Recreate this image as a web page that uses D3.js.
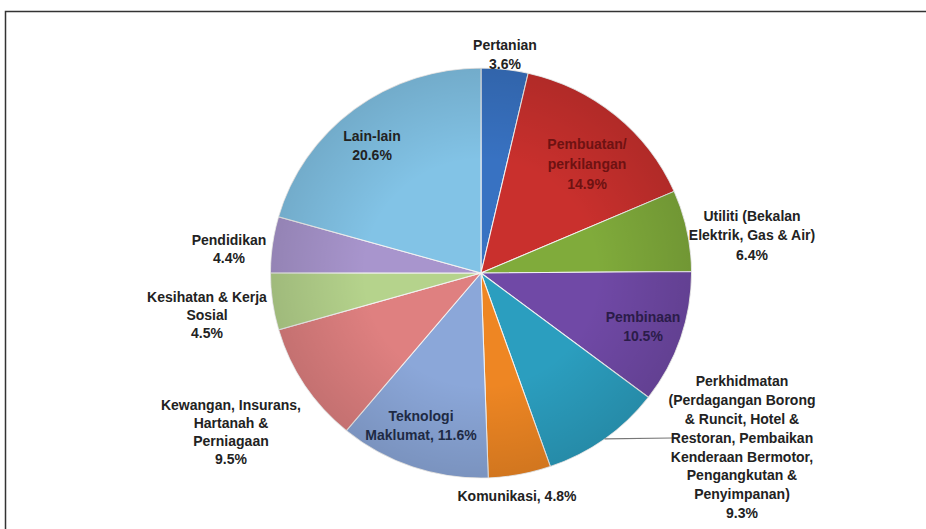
<!DOCTYPE html>
<html>
<head>
<meta charset="utf-8">
<script src="https://cdn.jsdelivr.net/npm/d3@7"></script>
<style>
    body { margin: 0; background: #fff; }
    svg { display: block; }
    .lbl { font-family: "Liberation Sans", Arial, sans-serif; font-weight: bold; font-size: 14px; }
</style>
</head>
<body>
<div id="chart"></div>
<script>
// sectors, clockwise from 12 o'clock
const sectors = ["Pertanian", "Pembuatan/perkilangan", "Utiliti", "Pembinaan", "Perkhidmatan",
    "Komunikasi", "Teknologi Maklumat", "Kewangan", "Kesihatan & Kerja Sosial", "Pendidikan", "Lain-lain"];
const shares = [3.6, 14.9, 6.4, 10.5, 9.3, 4.8, 11.6, 9.5, 4.5, 4.4, 20.6];
const sliceColours = ["#3872c2", "#c9302d", "#80ab3b", "#7049a6", "#2b9ebf", "#ee8623",
    "#8ba7d9", "#df8080", "#b5d38c", "#a895cd", "#82c3e6"];

// label text, one entry per line
const labelLines = [
    ["Pertanian", "3.6%"],
    ["Pembuatan/", "perkilangan", "14.9%"],
    ["Utiliti (Bekalan", "Elektrik, Gas & Air)", "6.4%"],
    ["Pembinaan", "10.5%"],
    ["Perkhidmatan", "(Perdagangan Borong", "& Runcit, Hotel &", "Restoran, Pembaikan",
        "Kenderaan Bermotor,", "Pengangkutan &", "Penyimpanan)", "9.3%"],
    ["Komunikasi, 4.8%"],
    ["Teknologi", "Maklumat, 11.6%"],
    ["Kewangan, Insurans,", "Hartanah &", "Perniagaan", "9.5%"],
    ["Kesihatan & Kerja", "Sosial", "4.5%"],
    ["Pendidikan", "4.4%"],
    ["Lain-lain", "20.6%"]
];

// where each label block sits (centre x, first line y) and its colour
const labelLayout = [
    {x: 505, y: 45, lh: 19, c: "#222"},
    {x: 587, y: 144, lh: 20, c: "#6e1212"},
    {x: 752, y: 216, lh: 19.5, c: "#222"},
    {x: 643, y: 317, lh: 19, c: "#2b1c49"},
    {x: 742, y: 381, lh: 18.9, c: "#222"},
    {x: 517, y: 496, lh: 19, c: "#222"},
    {x: 421, y: 416, lh: 19, c: "#1e2a44"},
    {x: 231, y: 405, lh: 18, c: "#222"},
    {x: 207, y: 297, lh: 18, c: "#222"},
    {x: 229, y: 240, lh: 18, c: "#222"},
    {x: 372, y: 136, lh: 19.5, c: "#222"}
];

const width = 926, height = 529;
const cx = 481, cy = 273, radius = 205;

const svg = d3.select("#chart").append("svg")
    .attr("width", width)
    .attr("height", height);

// outer frame, right and bottom edges run off the picture
svg.append("rect")
    .attr("x", 5.5).attr("y", 11.5)
    .attr("width", 940).attr("height", 540)
    .attr("fill", "none")
    .attr("stroke", "#333")
    .attr("stroke-width", 1.5);

const pie = d3.pie().sort(null).value(d => d);
const arc = d3.arc().innerRadius(0).outerRadius(radius);
const arcs = pie(shares);

// the source image is a little wider than tall
const pieG = svg.append("g")
    .attr("transform", `translate(${cx},${cy}) scale(1.027,1)`);

pieG.selectAll("path.slice")
    .data(arcs)
    .enter().append("path")
    .attr("class", "slice")
    .attr("d", arc)
    .attr("fill", (d, i) => sliceColours[i])
    .attr("stroke", "#f2f2f2")
    .attr("stroke-width", 1);

// soft shading toward the rim
const defs = svg.append("defs");
const grad = defs.append("radialGradient").attr("id", "shade")
    .attr("cx", "50%").attr("cy", "50%").attr("r", "50%");
grad.append("stop").attr("offset", "55%").attr("stop-color", "#000").attr("stop-opacity", 0);
grad.append("stop").attr("offset", "100%").attr("stop-color", "#000").attr("stop-opacity", 0.12);
pieG.append("circle").attr("r", radius).attr("fill", "url(#shade)");

// leader line for Perkhidmatan, from the middle of its slice edge
const perk = arcs[4];
const midA = (perk.startAngle + perk.endAngle) / 2;
svg.append("line")
    .attr("x1", cx + Math.sin(midA) * radius * 1.027)
    .attr("y1", cy - Math.cos(midA) * radius)
    .attr("x2", 672).attr("y2", 438)
    .attr("stroke", "#777")
    .attr("stroke-width", 1.2);

const labels = svg.selectAll("text.lbl")
    .data(labelLines)
    .enter().append("text")
    .attr("class", "lbl")
    .attr("text-anchor", "middle")
    .attr("fill", (d, i) => labelLayout[i].c);

labels.each(function(lines, i) {
    const L = labelLayout[i];
    d3.select(this).selectAll("tspan")
        .data(lines)
        .enter().append("tspan")
        .attr("x", L.x)
        .attr("y", (t, j) => L.y + j * L.lh)
        .attr("dy", "0.35em")
        .text(t => t);
});
</script>
</body>
</html>
